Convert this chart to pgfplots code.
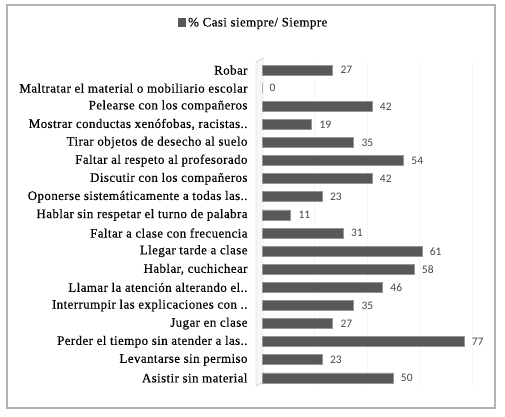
\documentclass[border=0pt]{standalone}
\usepackage{fontspec}
\setmainfont{Liberation Serif}
\newfontfamily\labfont[FakeBold=0.3, LetterSpace=3]{Liberation Serif}
\newfontfamily\valfont{Carlito}
\usepackage{pgfplots}
\pgfplotsset{compat=1.18}
\definecolor{barfill}{RGB}{88,88,88}
\definecolor{baredge}{RGB}{150,150,150}
\definecolor{valcol}{RGB}{70,70,70}

\begin{document}
\begin{tikzpicture}[x=1pt,y=1pt]
\useasboundingbox (0,0) rectangle (505,416);
\draw[gray!60, line width=1.2pt] (7,8) rectangle (495,411);
% 3D wall behind the categories
\draw[gray!55, fill=gray!6] (256,30) -- (256,354) -- (263,358) -- (263,34) -- cycle;
\begin{axis}[
    at={(262pt,29pt)}, anchor=south west,
    scale only axis,
    width=210pt, height=326pt,
    xbar, bar width=10pt,
    xmin=0, xmax=80,
    ymin=-0.5, ymax=17.5,
    y dir=reverse,
    ytick={0,...,17},
    yticklabels={Robar,
        Maltratar el material o mobiliario escolar,
        Pelearse con los compañeros,
        {Mostrar conductas xenófobas, racistas..},
        Tirar objetos de desecho al suelo,
        Faltar al respeto al profesorado,
        Discutir con los compañeros,
        Oponerse sistemáticamente a todas las..,
        Hablar sin respetar el turno de palabra,
        Faltar a clase con frecuencia,
        Llegar tarde a clase,
        {Hablar, cuchichear},
        Llamar la atención alterando el..,
        Interrumpir las explicaciones con ..,
        Jugar en clase,
        Perder el tiempo sin atender a las..,
        Levantarse sin permiso,
        Asistir sin material},
    yticklabel style={font=\labfont\fontsize{13}{13}\selectfont, xshift=-11pt},
    xtick={0,20,40,60,80}, xticklabels={},
    xmajorgrids, grid style={gray!8},
    major tick length=0pt,
    axis line style={draw=none},
    nodes near coords={\valfont\pgfmathprintnumber[assume math mode=true]{\pgfplotspointmeta}},
    nodes near coords style={font=\valfont\fontsize{11.5}{11.5}\selectfont, text=valcol, anchor=west, xshift=4pt},
    legend style={at={(-0.04,1.117)}, anchor=center, draw=none, fill=none,
        font=\labfont\fontsize{13}{13}\selectfont},
    legend image code/.code={\fill[barfill] (0pt,-3.5pt) rectangle (7.5pt,4pt);},
]
\addplot[fill=barfill, draw=baredge, line width=0.8pt] coordinates {
    (27,0) (0,1) (42,2) (19,3) (35,4) (54,5) (42,6) (23,7) (11,8)
    (31,9) (61,10) (58,11) (46,12) (35,13) (27,14) (77,15) (23,16) (50,17)
};
\addlegendentry{\% Casi siempre/ Siempre}
\end{axis}
\end{tikzpicture}
\end{document}
